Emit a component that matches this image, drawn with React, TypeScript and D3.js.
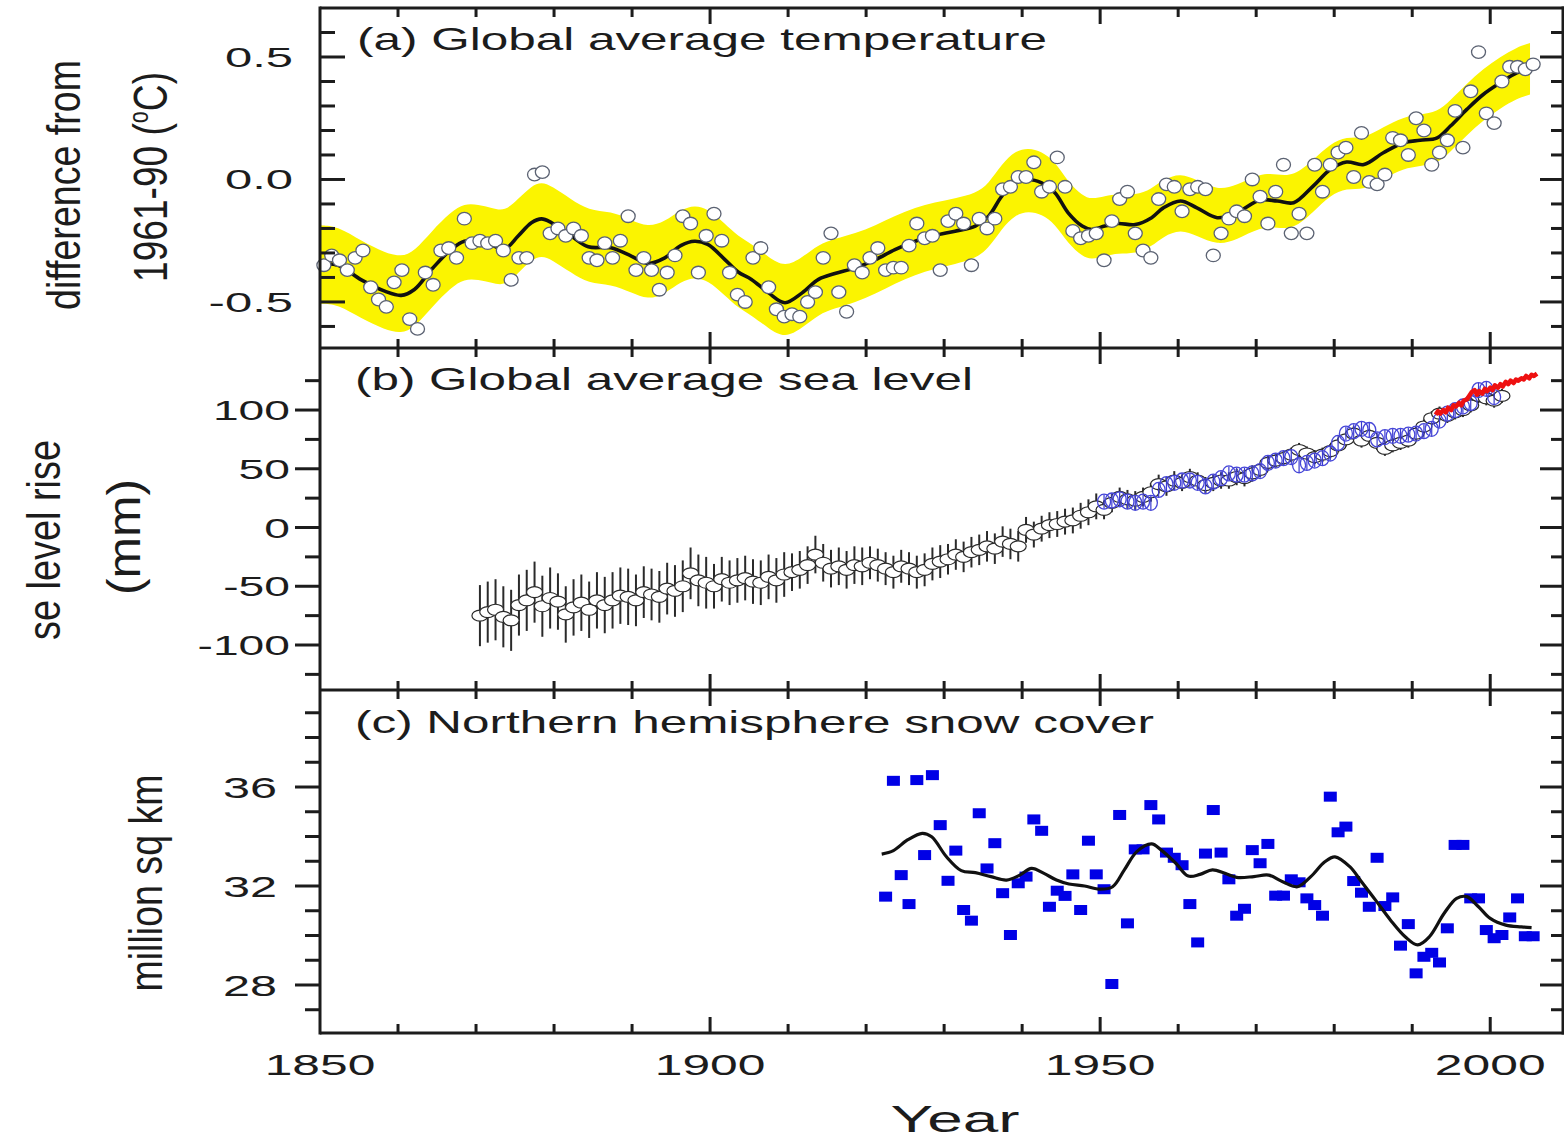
import React from 'react';
import * as d3 from 'd3';

const W = 1564;
const H = 1142;
const FONT = "'Liberation Sans', Arial, Helvetica, sans-serif";
const INK = '#1c1c1c';

// ---- (a) Global average temperature, difference from 1961-90 (deg C)
const tempYears = d3.range(1850, 2006);
const tempAnnual = [
  -0.35, -0.31, -0.33, -0.37, -0.32, -0.29, -0.44, -0.49, -0.52, -0.42,
  -0.37, -0.57, -0.61, -0.38, -0.43, -0.29, -0.28, -0.32, -0.16, -0.26,
  -0.25, -0.26, -0.25, -0.29, -0.41, -0.32, -0.32, 0.02, 0.03, -0.22,
  -0.20, -0.23, -0.20, -0.23, -0.32, -0.33, -0.26, -0.32, -0.25, -0.15,
  -0.37, -0.32, -0.37, -0.45, -0.38, -0.31, -0.15, -0.18, -0.38, -0.23,
  -0.14, -0.25, -0.38, -0.47, -0.50, -0.32, -0.28, -0.44, -0.53, -0.56,
  -0.55, -0.56, -0.50, -0.46, -0.32, -0.22, -0.46, -0.54, -0.35, -0.38,
  -0.32, -0.28, -0.37, -0.36, -0.36, -0.27, -0.18, -0.24, -0.23, -0.37,
  -0.17, -0.14, -0.18, -0.35, -0.16, -0.20, -0.16, -0.04, -0.03, 0.01,
  0.01, 0.07, -0.05, -0.03, 0.09, -0.03, -0.21, -0.24, -0.23, -0.22,
  -0.33, -0.17, -0.08, -0.05, -0.22, -0.29, -0.32, -0.08, -0.02, -0.03,
  -0.13, -0.04, -0.03, -0.04, -0.31, -0.22, -0.16, -0.13, -0.15, 0.0,
  -0.07, -0.18, -0.05, 0.06, -0.22, -0.14, -0.22, 0.06, -0.05, 0.06,
  0.11, 0.13, 0.01, 0.19, -0.01, -0.02, 0.02, 0.17, 0.16, 0.10,
  0.25, 0.20, 0.06, 0.11, 0.16, 0.28, 0.13, 0.36, 0.52, 0.27,
  0.23, 0.40, 0.46, 0.46, 0.45, 0.47,
];
const tempSmoothYears = [
  1850, 1852.3, 1855.3, 1858.3, 1860.4, 1862.1, 1864.3, 1866.8, 1868.5, 1870.3,
  1872, 1873.7, 1875.4, 1877.1, 1878.4, 1879.7, 1882.2, 1884.4, 1887.3, 1889.9,
  1892, 1894.2, 1896.3, 1898, 1899.7, 1901.9, 1903.6, 1905.3, 1907.5, 1909.6,
  1911.8, 1913.9, 1916, 1918.6, 1921.2, 1923.7, 1926.3, 1928.8, 1931.4, 1934,
  1935.7, 1937.4, 1939.1, 1940.8, 1942.5, 1944.2, 1945.9, 1947.7, 1948.9, 1950.6,
  1952.3, 1954.5, 1956.6, 1958.1, 1960.3, 1962.4, 1965, 1967.5, 1970.5, 1972.7,
  1974.8, 1977.3, 1979.5, 1981.6, 1983.8, 1986.3, 1988.9, 1991, 1993.2, 1994.9,
  1997, 1999.1, 2001.3, 2003.4, 2005.1,
];
const tempSmooth = [
  -0.347, -0.35, -0.41, -0.456, -0.473, -0.449, -0.367, -0.286, -0.252, -0.256,
  -0.269, -0.283, -0.231, -0.177, -0.161, -0.177, -0.231, -0.275, -0.279, -0.313,
  -0.343, -0.32, -0.269, -0.252, -0.265, -0.327, -0.378, -0.408, -0.463, -0.503,
  -0.463, -0.408, -0.384, -0.361, -0.327, -0.286, -0.252, -0.229, -0.211, -0.19,
  -0.15, -0.068, -0.014, 0.0, -0.014, -0.054, -0.136, -0.19, -0.204, -0.19,
  -0.18, -0.184, -0.156, -0.116, -0.088, -0.116, -0.156, -0.136, -0.084, -0.088,
  -0.095, -0.027, 0.041, 0.071, 0.061, 0.109, 0.15, 0.16, 0.17, 0.218,
  0.286, 0.347, 0.395, 0.435, 0.452,
];
// half width of the yellow uncertainty band, read at a few years
const tempBandYears = [1850, 1880, 1910, 1940, 1960, 1980, 2005.1];
const tempBandHalf = [0.16, 0.15, 0.145, 0.13, 0.115, 0.105, 0.105];

// ---- (b) Global average sea level (mm)
const seaYears = d3.range(1870, 2002);
const seaLevel = [
  -75, -72, -70, -76, -79, -66, -62, -55, -67, -60,
  -63, -74, -68, -64, -70, -62, -66, -62, -58, -59,
  -62, -55, -57, -59, -52, -54, -50, -39, -45, -47,
  -50, -44, -47, -45, -43, -46, -47, -42, -45, -40,
  -38, -36, -32, -23, -30, -35, -33, -36, -32, -33,
  -30, -32, -35, -38, -33, -35, -38, -36, -31, -29,
  -27, -23, -25, -21, -19, -16, -18, -12, -14, -16,
  -2, -6, -1, 2, 3, 5, 6, 10, 13, 18,
  15, 21, 26, 24, 23, 26, 30, 37, 35, 40,
  38, 43, 40, 36, 38, 40, 40, 43, 42, 46,
  49, 55, 57, 59, 62, 66, 63, 60, 62, 65,
  70, 75, 80, 74, 78, 72, 67, 70, 72, 74,
  80, 86, 93, 97, 95, 98, 100, 104, 112, 110,
  108, 112,
];
// error bar half length per decade
const seaErrDecades = [1870, 1880, 1890, 1900, 1910, 1920, 1930, 1940, 1950, 1960, 1970, 1980, 1990, 2000];
const seaErr = [26, 24, 22, 19, 16, 14, 13, 11, 8, 7, 6, 6, 6, 6];

const tideYears = d3.range(1950, 2001);
const tideLevel = [
  22, 23, 24, 22, 21, 22, 21, 32, 37, 38,
  40, 40, 38, 35, 39, 42, 46, 45, 45, 46,
  48, 55, 57, 59, 60, 53, 55, 57, 59, 63,
  72, 80, 82, 84, 83, 75, 77, 78, 78, 79,
  80, 82, 84, 91, 97, 100, 103, 106, 117, 118,
  111,
];

const altYears = [
  1993, 1993.3, 1993.6, 1994, 1994.3, 1994.6, 1995, 1995.3, 1995.6, 1996,
  1996.3, 1996.6, 1997, 1997.3, 1997.6, 1998, 1998.3, 1998.6, 1999, 1999.3,
  1999.6, 2000, 2000.3, 2000.6, 2001, 2001.3, 2001.6, 2002, 2002.3, 2002.6,
  2003, 2003.3, 2003.6, 2004, 2004.3, 2004.6, 2005, 2005.3, 2005.6, 2006,
];
const altLevel = [
  96, 99, 97, 100, 98, 102, 100, 104, 103, 106,
  104, 108, 109, 112, 115, 117, 113, 116, 114, 118,
  116, 119, 117, 121, 119, 122, 120, 124, 122, 125,
  123, 126, 125, 127, 126, 129, 127, 130, 129, 131,
];

// ---- (c) Northern hemisphere snow cover (million sq km)
const snowYears = d3.range(1922, 2006);
const snowCover = [
  31.57, 36.25, 32.44, 31.27, 36.28, 33.25, 36.48, 34.46,
  32.21, 33.43, 31.03, 30.6, 34.94, 32.71, 33.73, 31.71, 30.02, 32.11,
  32.38, 34.69, 34.23, 31.16, 31.81, 31.6, 32.47, 31.03, 33.83, 32.47,
  31.87, 28.04, 34.87, 30.49, 33.48, 33.48, 35.27, 34.69, 33.35, 33.14,
  32.84, 31.27, 29.72, 33.31, 35.07, 33.35, 32.27, 30.8, 31.08, 33.45,
  32.92, 33.7, 31.61, 31.61, 32.27, 32.15, 31.5, 31.23, 30.8, 35.61,
  34.17, 34.4, 32.2, 31.73, 31.16, 33.14, 31.19, 31.54, 29.59, 30.46,
  28.47, 29.14, 29.3, 28.91, 30.29, 33.66, 33.66, 31.5, 31.5, 30.22,
  29.89, 30.02, 30.73, 31.5, 29.97, 29.97,
];
const snowSmoothYears = [
  1922, 1923.5, 1925.3, 1927.2, 1928.4, 1930.3, 1932.2, 1934, 1936, 1938,
  1939.7, 1941.2, 1942.8, 1944.4, 1946, 1948, 1950, 1951.6, 1953.1, 1954.7,
  1956.6, 1957.8, 1959.7, 1961.3, 1962.8, 1964.4, 1966, 1967.5, 1969.7, 1971.6,
  1973.4, 1975.3, 1977, 1978.8, 1980.1, 1982, 1983.5, 1985.3, 1987.2, 1989.1,
  1990.7, 1992.2, 1994.1, 1995.7, 1997, 1998.5, 2000, 2002, 2004, 2005.3,
];
const snowSmooth = [
  33.29, 33.43, 33.86, 34.13, 33.99, 33.18, 32.62, 32.54, 32.38, 32.24,
  32.44, 32.71, 32.51, 32.24, 32.08, 32.0, 31.87, 31.97, 32.65, 33.39,
  33.7, 33.46, 32.92, 32.4, 32.47, 32.65, 32.51, 32.35, 32.38, 32.44,
  32.17, 31.97, 32.38, 32.98, 33.18, 32.78, 32.17, 31.43, 30.63, 29.95,
  29.62, 29.95, 30.9, 31.5, 31.57, 31.16, 30.69, 30.42, 30.35, 30.32,
];

const tempTicks = ['0.5', '0.0', '-0.5'];
const seaTicks = ['100', '50', '0', '-50', '-100'];
const snowTicks = ['36', '32', '28'];
const yearTicks = ['1850', '1900', '1950', '2000'];

// ---- layout
const LEFT = 320;
const RIGHT = 1562;
const x = d3.scaleLinear().domain([1850, 2009.2]).range([LEFT, RIGHT]);

const panels = {
  a: { top: 8, bottom: 348, y: d3.scaleLinear().domain([-0.688, 0.7]).range([348, 8]) },
  b: { top: 348, bottom: 690, y: d3.scaleLinear().domain([-138.3, 152.8]).range([690, 348]) },
  c: { top: 690, bottom: 1033, y: d3.scaleLinear().domain([26.06, 39.92]).range([1033, 690]) },
};

const xMinor = d3.range(1860, 2010, 10);

function Ticks({ p, minor, isMajor, outward }) {
  const els = [];
  xMinor.forEach((yr) => {
    const len = yr % 50 === 0 ? 16 : 9;
    els.push(<line key={'t' + yr} x1={x(yr)} x2={x(yr)} y1={p.top} y2={p.top + len} />);
    els.push(<line key={'b' + yr} x1={x(yr)} x2={x(yr)} y1={p.bottom} y2={p.bottom - len} />);
  });
  minor.forEach((v, i) => {
    const yy = p.y(v);
    const major = isMajor(v);
    const len = major ? 25 : 15;
    const dir = outward ? -1 : 1;
    els.push(<line key={'l' + i} x1={LEFT} x2={LEFT + dir * len} y1={yy} y2={yy} />);
    const rl = major ? 22 : 11;
    els.push(<line key={'r' + i} x1={RIGHT} x2={RIGHT - rl} y1={yy} y2={yy} />);
  });
  return <g stroke={INK} strokeWidth={3}>{els}</g>;
}

function RotLabel({ bx, cy, len, size, children }) {
  return (
    <text
      transform={`translate(${bx},${cy}) rotate(-90)`}
      textAnchor="middle"
      fontSize={size}
      fontFamily={FONT}
      fill={INK}
      textLength={len}
      lengthAdjust="spacingAndGlyphs"
    >
      {children}
    </text>
  );
}

function TickText({ tx, ty, size, anchor = 'end', sx = 1.65, children }) {
  return (
    <text
      transform={`translate(${tx},${ty}) scale(${sx},1)`}
      textAnchor={anchor}
      fontSize={size}
      fontFamily={FONT}
      fill={INK}
    >
      {children}
    </text>
  );
}

export default function App() {
  const pa = panels.a;
  const pb = panels.b;
  const pc = panels.c;

  // (a) band + smooth line
  const halfAt = d3.scaleLinear().domain(tempBandYears).range(tempBandHalf);
  const smoothA = tempSmoothYears.map((yr, i) => ({ yr, v: tempSmooth[i] }));
  const band = d3
    .area<{ yr: number; v: number }>()
    .x((d) => x(d.yr))
    .y0((d) => pa.y(d.v - halfAt(d.yr)))
    .y1((d) => pa.y(d.v + halfAt(d.yr)))
    .curve(d3.curveBasis);
  const lineA = d3
    .line<{ yr: number; v: number }>()
    .x((d) => x(d.yr))
    .y((d) => pa.y(d.v))
    .curve(d3.curveCatmullRom.alpha(0.5));

  // (b)
  const errFor = (yr) => {
    const i = d3.bisectRight(seaErrDecades, yr) - 1;
    return seaErr[Math.max(0, i)];
  };
  const lineAlt = d3
    .line<number>()
    .x((d, i) => x(altYears[i]))
    .y((d) => pb.y(d));

  // (c)
  const smoothC = snowSmoothYears.map((yr, i) => ({ yr, v: snowSmooth[i] }));
  const lineC = d3
    .line<{ yr: number; v: number }>()
    .x((d) => x(d.yr))
    .y((d) => pc.y(d.v))
    .curve(d3.curveCatmullRom.alpha(0.5));

  return (
    <svg
      width={W}
      height={H}
      style={{ position: 'absolute', left: 0, top: 0, background: '#fff' }}
      fontFamily={FONT}
    >
      <rect x={0} y={0} width={W} height={H} fill="#fff" />

      {/* ---------- panel (a) ---------- */}
      <path d={band(smoothA) || ''} fill="#fbf400" />
      <path d={lineA(smoothA) || ''} fill="none" stroke="#111" strokeWidth={3.6} />
      <g fill="#fff" stroke="#5b6272" strokeWidth={1.3}>
        {tempYears.map((yr, i) => (
          <ellipse key={yr} cx={x(yr + 0.5)} cy={pa.y(tempAnnual[i])} rx={7} ry={6.3} />
        ))}
      </g>

      {/* ---------- panel (b) ---------- */}
      <g stroke="#2a2a2a" strokeWidth={2}>
        {seaYears.map((yr, i) => {
          const e = errFor(yr);
          return (
            <line
              key={yr}
              x1={x(yr + 0.5)}
              x2={x(yr + 0.5)}
              y1={pb.y(seaLevel[i] - e)}
              y2={pb.y(seaLevel[i] + e)}
            />
          );
        })}
      </g>
      <g fill="#fff" stroke="#2a2a2a" strokeWidth={1.2}>
        {seaYears.map((yr, i) => (
          <ellipse key={yr} cx={x(yr + 0.5)} cy={pb.y(seaLevel[i])} rx={8} ry={5.5} />
        ))}
      </g>
      <g stroke="#3a3ad0" strokeWidth={1.2}>
        {tideYears.map((yr, i) => (
          <line
            key={yr}
            x1={x(yr + 0.5)}
            x2={x(yr + 0.5)}
            y1={pb.y(tideLevel[i] - 6)}
            y2={pb.y(tideLevel[i] + 6)}
          />
        ))}
      </g>
      <g fill="none" stroke="#4646d8" strokeWidth={1.3}>
        {tideYears.map((yr, i) => (
          <ellipse key={yr} cx={x(yr + 0.5)} cy={pb.y(tideLevel[i])} rx={6.5} ry={7.5} />
        ))}
      </g>
      <path d={lineAlt(altLevel) || ''} fill="none" stroke="#ee1111" strokeWidth={4.5} strokeLinejoin="round" />

      {/* ---------- panel (c) ---------- */}
      <g fill="#0000e6">
        {snowYears.map((yr, i) => (
          <rect key={yr} x={x(yr + 0.5) - 6.5} y={pc.y(snowCover[i]) - 5} width={13} height={10} />
        ))}
      </g>
      <path d={lineC(smoothC) || ''} fill="none" stroke="#111" strokeWidth={3.2} />

      {/* ---------- frames & ticks ---------- */}
      <Ticks p={pa} minor={d3.range(-6, 7).map((k) => k / 10)} isMajor={(v) => Math.abs(v * 10) % 5 < 1e-6} outward={false} />
      <Ticks p={pb} minor={d3.range(-125, 150, 25)} isMajor={(v) => v % 50 === 0} outward={true} />
      <Ticks p={pc} minor={d3.range(27, 40)} isMajor={(v) => v % 4 === 0} outward={true} />
      <g stroke={INK} strokeWidth={3} fill="none">
        <line x1={LEFT} x2={LEFT} y1={pa.top - 1.5} y2={pc.bottom + 1.5} />
        <line x1={RIGHT + 1} x2={RIGHT + 1} y1={pa.top - 1.5} y2={pc.bottom + 1.5} />
        <line x1={LEFT} x2={RIGHT + 2} y1={pa.top} y2={pa.top} />
        <line x1={LEFT} x2={RIGHT + 2} y1={pb.top} y2={pb.top} />
        <line x1={LEFT} x2={RIGHT + 2} y1={pc.top} y2={pc.top} />
        <line x1={LEFT} x2={RIGHT + 2} y1={pc.bottom} y2={pc.bottom} />
      </g>

      {/* ---------- tick labels ---------- */}
      {tempTicks.map((t) => (
        <TickText key={t} tx={293} ty={pa.y(+t) + 10} size={28} sx={1.75}>{t}</TickText>
      ))}
      {seaTicks.map((t) => (
        <TickText key={t} tx={290} ty={pb.y(+t) + 10} size={28} sx={1.65}>{t}</TickText>
      ))}
      {snowTicks.map((t) => (
        <TickText key={t} tx={277} ty={pc.y(+t) + 11} size={30} sx={1.62}>{t}</TickText>
      ))}
      {yearTicks.map((t) => (
        <TickText key={t} tx={x(+t)} ty={1075} size={30} sx={1.66} anchor="middle">{t}</TickText>
      ))}

      {/* ---------- panel titles ---------- */}
      <text x={357} y={50} fontSize={32} fill={INK} textLength={690} lengthAdjust="spacingAndGlyphs">
        (a) Global average temperature
      </text>
      <text x={355} y={390} fontSize={32} fill={INK} textLength={618} lengthAdjust="spacingAndGlyphs">
        (b) Global average sea level
      </text>
      <text x={355} y={733} fontSize={32} fill={INK} textLength={799} lengthAdjust="spacingAndGlyphs">
        (c) Northern hemisphere snow cover
      </text>

      {/* ---------- axis titles ---------- */}
      <RotLabel bx={80} cy={185} len={250} size={46}>difference from</RotLabel>
      <RotLabel bx={167} cy={177} len={210} size={48}>
        1961-90 (<tspan fontSize={28} dy={-19}>o</tspan>
        <tspan dy={19}>C)</tspan>
      </RotLabel>
      <RotLabel bx={60} cy={540} len={200} size={46}>se level rise</RotLabel>
      <RotLabel bx={140} cy={537} len={116} size={46}>(mm)</RotLabel>
      <RotLabel bx={162} cy={883} len={217} size={46}>million sq km</RotLabel>
      <text x={955} y={1132} fontSize={36} fill={INK} textAnchor="middle" textLength={129} lengthAdjust="spacingAndGlyphs">
        Year
      </text>
    </svg>
  );
}
